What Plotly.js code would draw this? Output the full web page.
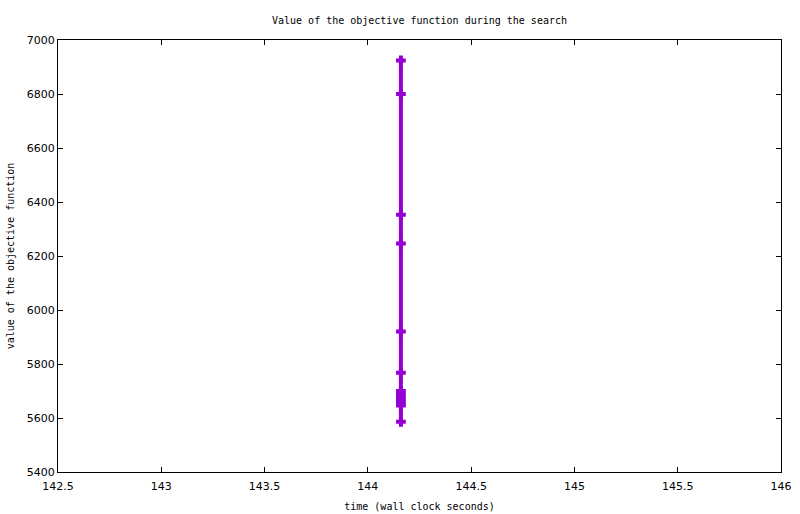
<!DOCTYPE html>
<html>
<head>
<meta charset="utf-8">
<script src="https://cdn.plot.ly/plotly-3.0.1.min.js"></script>
<style>
  body { margin: 0; background: #fff; }
  #plot { width: 800px; height: 514px; }
</style>
</head>
<body>
<div id="plot"></div>
<script>
// time of each improvement (wall clock seconds) and objective value
const times = [144.16, 144.16, 144.16, 144.16, 144.16, 144.16,
               144.16, 144.16, 144.16, 144.16, 144.16, 144.16];
const objective = [6924, 6800, 6353, 6246, 5920, 5768,
                   5700, 5685, 5670, 5656, 5646, 5586];

const xTicks = [142.5, 143, 143.5, 144, 144.5, 145, 145.5, 146];
const xTickText = ['142.5', '143', '143.5', '144', '144.5', '145', '145.5', '146'];
const yTicks = [5400, 5600, 5800, 6000, 6200, 6400, 6600, 6800, 7000];

const mono = 'DejaVu Sans Mono, Liberation Mono, monospace';
const sans = 'DejaVu Sans, Liberation Sans, sans-serif';

let trace = {
    x: times,
    y: objective,
    type: 'scatter',
    mode: 'lines+markers',
    line: { color: '#9400d3', width: 4 },
    marker: {
        symbol: 'cross-thin',
        size: 7,
        color: '#9400d3',
        line: { color: '#9400d3', width: 4 }
    },
    showlegend: false,
    hoverinfo: 'none'
};

let axisCommon = {
    showgrid: false,
    zeroline: false,
    showline: true,
    mirror: 'ticks',
    linecolor: 'black',
    linewidth: 1,
    ticks: 'inside',
    ticklen: 5,
    tickcolor: 'black',
    tickfont: { family: sans, size: 11, color: 'black' }
};

let layout = {
    width: 800,
    height: 514,
    paper_bgcolor: 'white',
    plot_bgcolor: 'white',
    margin: { l: 58, r: 19, t: 40, b: 42 },
    title: {
        text: 'Value of the objective function during the search',
        font: { family: mono, size: 10, color: 'black' },
        xref: 'paper', x: 0.5, xanchor: 'center',
        y: 1 - 20 / 514, yanchor: 'middle'
    },
    xaxis: Object.assign({}, axisCommon, {
        range: [142.5, 146],
        tickvals: xTicks,
        ticktext: xTickText,
        ticklabelstandoff: 4,
        title: { text: 'time (wall clock seconds)', font: { family: mono, size: 10, color: 'black' }, standoff: 10 }
    }),
    yaxis: Object.assign({}, axisCommon, {
        range: [5400, 7000],
        tickvals: yTicks,
        title: { text: 'value of the objective function', font: { family: mono, size: 10, color: 'black' }, standoff: 10 }
    })
};

Plotly.newPlot('plot', [trace], layout, { staticPlot: true, displayModeBar: false });
</script>
</body>
</html>
